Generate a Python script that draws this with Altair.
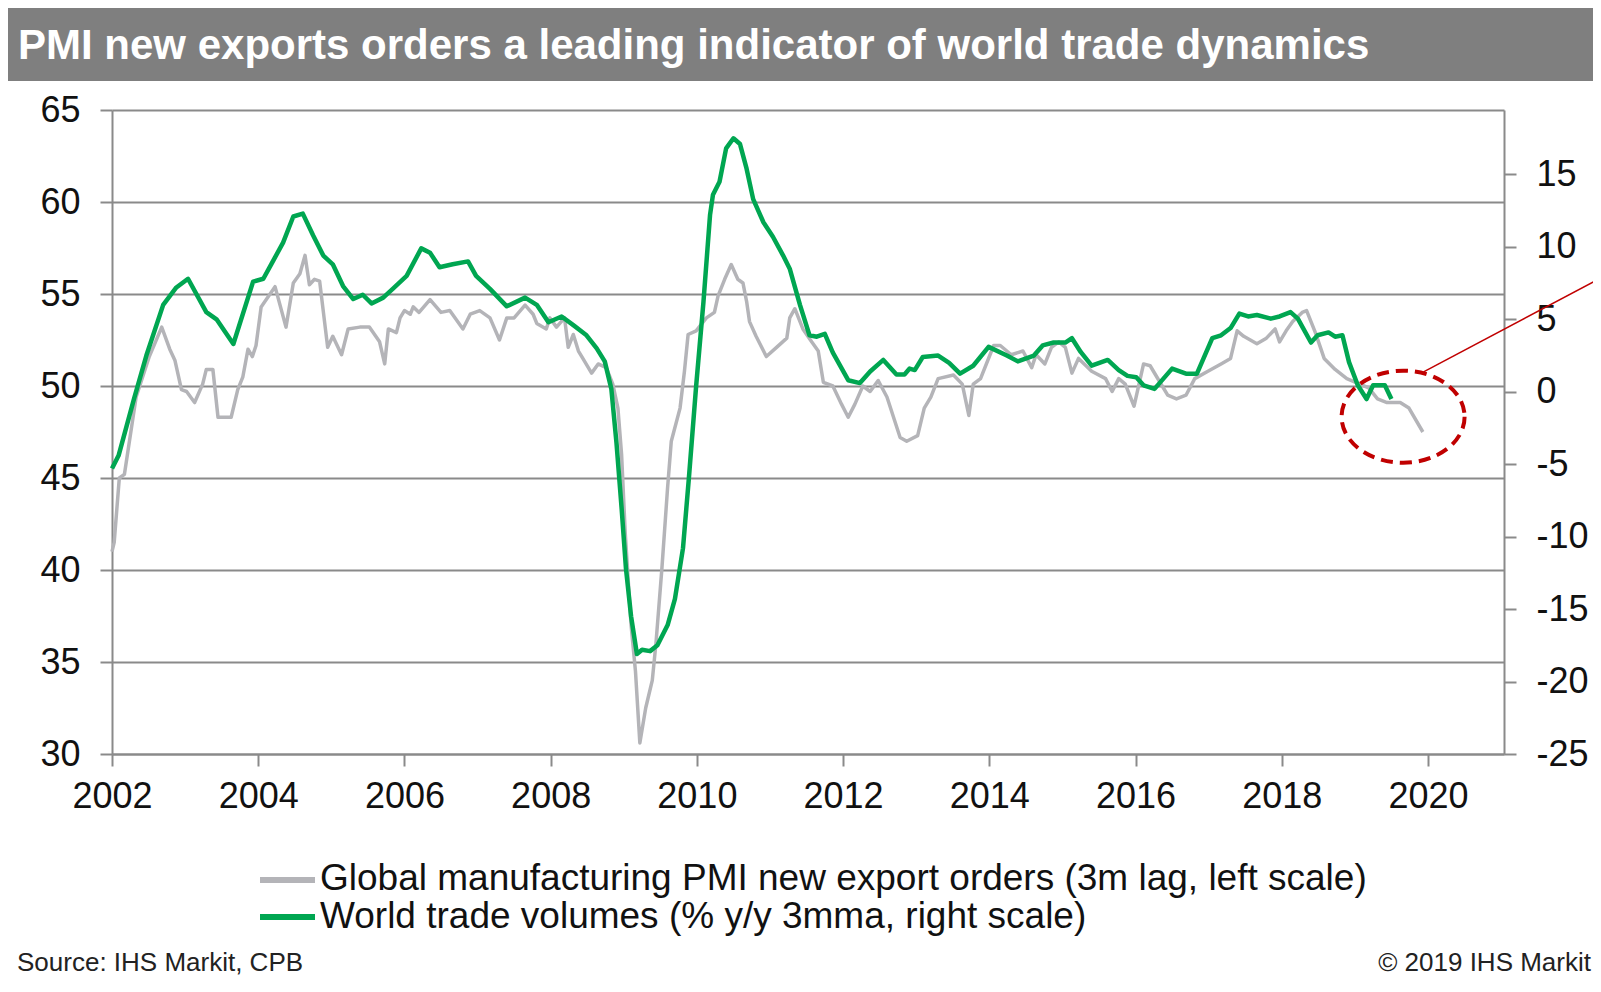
import altair as alt
import pandas as pd

# ---------------- data ----------------
gray_year = [2002.00, 2002.03, 2002.10, 2002.17, 2002.33, 2002.51, 2002.68, 2002.79, 2002.86, 2002.95,
             2003.02, 2003.13, 2003.24, 2003.29, 2003.38, 2003.45, 2003.63, 2003.72, 2003.79, 2003.86,
             2003.92, 2003.97, 2004.04, 2004.11, 2004.23, 2004.38, 2004.48, 2004.57, 2004.64, 2004.70,
             2004.77, 2004.84, 2004.95, 2005.02, 2005.14, 2005.23, 2005.39, 2005.52, 2005.66, 2005.73,
             2005.78, 2005.89, 2005.94, 2006.00, 2006.08, 2006.12, 2006.20, 2006.35, 2006.50, 2006.62,
             2006.80, 2006.90, 2007.03, 2007.17, 2007.30, 2007.40, 2007.50, 2007.65, 2007.76, 2007.81,
             2007.94, 2007.99, 2008.08, 2008.19, 2008.24, 2008.31, 2008.38, 2008.44, 2008.56, 2008.65,
             2008.76, 2008.85, 2008.92, 2008.97, 2009.02, 2009.10, 2009.16, 2009.22, 2009.30, 2009.39,
             2009.44, 2009.52, 2009.60, 2009.65, 2009.77, 2009.83, 2009.88, 2009.99, 2010.13, 2010.24,
             2010.29, 2010.38, 2010.47, 2010.56, 2010.63, 2010.68, 2010.72, 2010.81, 2010.95, 2011.09,
             2011.23, 2011.27, 2011.34, 2011.45, 2011.57, 2011.66, 2011.73, 2011.86, 2011.98, 2012.07,
             2012.16, 2012.27, 2012.37, 2012.48, 2012.60, 2012.69, 2012.78, 2012.87, 2013.02, 2013.11,
             2013.20, 2013.30, 2013.51, 2013.63, 2013.72, 2013.78, 2013.88, 2014.06, 2014.15, 2014.30,
             2014.46, 2014.58, 2014.64, 2014.76, 2014.85, 2014.95, 2015.04, 2015.13, 2015.22, 2015.40,
             2015.59, 2015.68, 2015.77, 2015.86, 2015.98, 2016.11, 2016.20, 2016.32, 2016.44, 2016.56,
             2016.69, 2016.81, 2016.99, 2017.17, 2017.30, 2017.39, 2017.48, 2017.66, 2017.79, 2017.91,
             2017.97, 2018.06, 2018.15, 2018.28, 2018.34, 2018.46, 2018.58, 2018.73, 2018.89, 2019.01,
             2019.19, 2019.31, 2019.44, 2019.62, 2019.74, 2019.93]
gray_value = [41.0, 41.5, 45.0, 45.2, 49.4, 51.6, 53.2, 52.0, 51.4, 49.8,
              49.7, 49.1, 50.1, 50.9, 50.9, 48.3, 48.3, 49.8, 50.5, 52.0,
              51.6, 52.2, 54.3, 54.7, 55.4, 53.2, 55.6, 56.1, 57.1, 55.5,
              55.8, 55.7, 52.1, 52.7, 51.7, 53.1, 53.2, 53.2, 52.4, 51.2,
              53.1, 52.9, 53.7, 54.1, 53.9, 54.3, 54.0, 54.7, 54.0, 54.1,
              53.1, 53.9, 54.1, 53.7, 52.5, 53.7, 53.7, 54.4, 53.9, 53.4,
              53.1, 53.7, 53.2, 53.7, 52.1, 52.8, 51.9, 51.5, 50.7, 51.2,
              51.0, 50.1, 48.8, 46.3, 42.0, 37.0, 34.5, 30.6, 32.5, 34.0,
              36.0, 40.0, 44.5, 47.0, 48.8, 50.8, 52.8, 53.0, 53.7, 54.0,
              54.9, 55.8, 56.6, 55.8, 55.6, 54.6, 53.5, 52.7, 51.6, 52.1,
              52.6, 53.7, 54.2, 53.1, 52.4, 51.9, 50.2, 50.0, 49.0, 48.3,
              49.0, 50.0, 49.7, 50.3, 49.4, 48.3, 47.2, 47.0, 47.3, 48.8,
              49.4, 50.4, 50.6, 50.1, 48.4, 50.1, 50.4, 52.2, 52.2, 51.7,
              51.9, 51.0, 51.7, 51.2, 52.1, 52.4, 52.1, 50.7, 51.5, 50.8,
              50.4, 49.7, 50.4, 50.1, 48.9, 51.2, 51.1, 50.3, 49.5, 49.3,
              49.5, 50.4, 50.8, 51.2, 51.5, 53.0, 52.7, 52.3, 52.6, 53.1,
              52.4, 53.0, 53.5, 54.0, 54.1, 52.9, 51.5, 50.9, 50.4, 50.2,
              49.9, 49.3, 49.1, 49.1, 48.8, 47.5]

green_year = [2002.00, 2002.09, 2002.30, 2002.47, 2002.70, 2002.88, 2003.04, 2003.29, 2003.43, 2003.66,
              2003.93, 2004.07, 2004.20, 2004.34, 2004.48, 2004.61, 2004.75, 2004.89, 2005.02, 2005.16,
              2005.30, 2005.43, 2005.55, 2005.71, 2005.84, 2006.03, 2006.23, 2006.35, 2006.48, 2006.66,
              2006.87, 2006.98, 2007.17, 2007.40, 2007.65, 2007.81, 2007.97, 2008.15, 2008.31, 2008.49,
              2008.63, 2008.74, 2008.83, 2008.90, 2008.97, 2009.03, 2009.10, 2009.18, 2009.25, 2009.36,
              2009.46, 2009.60, 2009.70, 2009.81, 2009.89, 2009.99, 2010.09, 2010.18, 2010.22, 2010.31,
              2010.40, 2010.50, 2010.59, 2010.68, 2010.77, 2010.91, 2011.04, 2011.18, 2011.27, 2011.41,
              2011.54, 2011.64, 2011.75, 2011.86, 2012.07, 2012.23, 2012.37, 2012.55, 2012.73, 2012.84,
              2012.91, 2012.98, 2013.09, 2013.30, 2013.45, 2013.60, 2013.78, 2013.99, 2014.24, 2014.39,
              2014.61, 2014.73, 2014.88, 2015.04, 2015.13, 2015.25, 2015.40, 2015.62, 2015.77, 2015.89,
              2016.01, 2016.11, 2016.26, 2016.50, 2016.69, 2016.84, 2017.05, 2017.17, 2017.30, 2017.42,
              2017.54, 2017.66, 2017.85, 2017.97, 2018.12, 2018.22, 2018.40, 2018.49, 2018.64, 2018.73,
              2018.83, 2018.92, 2019.04, 2019.16, 2019.25, 2019.41, 2019.50]
green_value = [-5.3, -4.4, -0.5, 2.5, 6.0, 7.2, 7.8, 5.5, 5.0, 3.3,
               7.6, 7.8, 9.0, 10.3, 12.1, 12.3, 10.8, 9.4, 8.8, 7.3,
               6.4, 6.7, 6.1, 6.5, 7.1, 8.0, 9.9, 9.6, 8.6, 8.8,
               9.0, 8.0, 7.1, 5.9, 6.5, 6.0, 4.8, 5.2, 4.6, 3.9,
               3.0, 2.1, 0.2, -3.5, -8.0, -12.2, -15.5, -18.1, -17.8, -17.9,
               -17.5, -16.1, -14.3, -10.8, -6.0, 0.4, 6.2, 12.2, 13.6, 14.5,
               16.8, 17.5, 17.1, 15.4, 13.3, 11.7, 10.7, 9.4, 8.5, 6.0,
               3.9, 3.8, 4.0, 2.7, 0.8, 0.6, 1.4, 2.2, 1.2, 1.2,
               1.6, 1.5, 2.4, 2.5, 2.0, 1.25, 1.8, 3.1, 2.5, 2.1,
               2.5, 3.2, 3.4, 3.4, 3.7, 2.75, 1.8, 2.2, 1.5, 1.1,
               1.0, 0.45, 0.2, 1.6, 1.25, 1.25, 3.7, 3.9, 4.4, 5.4,
               5.2, 5.3, 5.05, 5.2, 5.5, 5.05, 3.4, 3.9, 4.1, 3.8,
               3.9, 2.05, 0.45, -0.5, 0.45, 0.45, -0.5]

x_ticks = [2002, 2004, 2006, 2008, 2010, 2012, 2014, 2016, 2018, 2020]
left_ticks = [30, 35, 40, 45, 50, 55, 60, 65]
right_ticks = [-25, -20, -15, -10, -5, 0, 5, 10, 15]
x_domain = [2002, 2021.04]
left_domain = [30, 65]
right_domain = [-25, 19.45]

title_text = ["PMI new exports orders a leading indicator of world trade dynamics"]
legend_labels = ["Global manufacturing PMI new export orders (3m lag, left scale)",
                 "World trade volumes (% y/y 3mma, right scale)"]
source_text = ["Source: IHS Markit, CPB"]
copyright_text = ["\u00a9 2019 IHS Markit"]

# annotation: circled recent values (x in years, y on right scale)
ellipse_center = {"year": 2019.66, "value": -1.72}
arrow = {"year": 2019.94, "y0": 1.37, "x1": 2022.4, "y1": 7.95}

GRAY = "#b4b4b8"
GREEN = "#00a651"
AXIS = "#8a8a8a"
TEXT = "#111111"
FONT = "Liberation Sans"

gray_df = pd.DataFrame({"year": gray_year, "value": gray_value})
green_df = pd.DataFrame({"year": green_year, "value": green_value})

xscale = alt.Scale(domain=x_domain, nice=False, zero=False)
x_axis = alt.Axis(values=x_ticks, format="d", title=None, grid=False,
                  domainColor=AXIS, domainWidth=2, tickColor=AXIS, tickWidth=2,
                  tickSize=12, labelPadding=13, labelFontSize=36, labelFont=FONT,
                  labelColor=TEXT, labelFlush=False, orient="bottom")
x_enc = alt.X("year:Q", scale=xscale, axis=x_axis)

right_scale = alt.Scale(domain=right_domain, nice=False, zero=False)

gray_line = alt.Chart(gray_df).mark_line(color=GRAY, strokeWidth=3.5, strokeJoin="round").encode(
    x=x_enc,
    y=alt.Y("value:Q", scale=alt.Scale(domain=left_domain, nice=False, zero=False),
            axis=alt.Axis(orient="left", values=left_ticks, title=None, grid=True,
                          gridColor=AXIS, gridWidth=2, domainColor=AXIS, domainWidth=2,
                          tickColor=AXIS, tickWidth=2, tickSize=12, labelPadding=20,
                          labelFontSize=36, labelFont=FONT, labelColor=TEXT))
)

green_line = alt.Chart(green_df).mark_line(color=GREEN, strokeWidth=4.5, strokeJoin="round").encode(
    x=x_enc,
    y=alt.Y("value:Q", scale=right_scale,
            axis=alt.Axis(orient="right", values=right_ticks, title=None, grid=False,
                          domainColor=AXIS, domainWidth=2, tickColor=AXIS, tickWidth=2,
                          tickSize=12, labelPadding=20, labelFontSize=36, labelFont=FONT,
                          labelColor=TEXT, labelAlign="left",
                          labelExpr="'' + datum.value"))
)

ellipse_path = ("M1,0 C1,0.413 0.552,0.748 0,0.748 C-0.552,0.748 -1,0.413 -1,0 "
                "C-1,-0.413 -0.552,-0.748 0,-0.748 C0.552,-0.748 1,-0.413 1,0 Z")
ellipse = alt.Chart(pd.DataFrame([ellipse_center])).mark_point(
    shape=ellipse_path, size=15129, filled=False, stroke="#c00000", strokeWidth=4,
    strokeDash=[12, 7], opacity=1
).encode(
    x=x_enc,
    y=alt.Y("value:Q", scale=right_scale, axis=None)
)

arrow_line = alt.Chart(pd.DataFrame([arrow])).mark_rule(color="#c00000", strokeWidth=1.5).encode(
    x=x_enc,
    x2="x1:Q",
    y=alt.Y("y0:Q", scale=right_scale, axis=None),
    y2="y1:Q",
)

# title band
band = alt.Chart(pd.DataFrame({"label": title_text})).mark_rect(color="#7f7f7f").encode(
    x=alt.value(-112), x2=alt.value(1489), y=alt.value(-103), y2=alt.value(-29)
)
title = alt.Chart(pd.DataFrame({"label": title_text})).mark_text(
    align="left", baseline="alphabetic", font=FONT, fontSize=42, fontWeight="bold", color="white"
).encode(x=alt.value(-94), y=alt.value(-51), text="label:N")

# legend
leg_df = pd.DataFrame({"label": legend_labels})
leg_sym_gray = alt.Chart(leg_df.iloc[[0]]).mark_rule(color=GRAY, strokeWidth=6).encode(
    x=alt.value(148), x2=alt.value(203), y=alt.value(770))
leg_sym_green = alt.Chart(leg_df.iloc[[1]]).mark_rule(color=GREEN, strokeWidth=6).encode(
    x=alt.value(148), x2=alt.value(203), y=alt.value(807))
leg_txt_gray = alt.Chart(leg_df.iloc[[0]]).mark_text(
    align="left", baseline="middle", font=FONT, fontSize=37, color=TEXT
).encode(x=alt.value(208), y=alt.value(768.5), text="label:N")
leg_txt_green = alt.Chart(leg_df.iloc[[1]]).mark_text(
    align="left", baseline="middle", font=FONT, fontSize=37, color=TEXT
).encode(x=alt.value(208), y=alt.value(806.5), text="label:N")

source = alt.Chart(pd.DataFrame({"label": source_text})).mark_text(
    align="left", baseline="middle", font=FONT, fontSize=26, color="#222222"
).encode(x=alt.value(-95), y=alt.value(853), text="label:N")
copyright_ = alt.Chart(pd.DataFrame({"label": copyright_text})).mark_text(
    align="right", baseline="middle", font=FONT, fontSize=26, color="#222222"
).encode(x=alt.value(1479), y=alt.value(853), text="label:N")

chart = alt.layer(
    band, title, gray_line, green_line, ellipse, arrow_line,
    leg_sym_gray, leg_sym_green, leg_txt_gray, leg_txt_green, source, copyright_
).resolve_scale(y="independent").properties(
    width=1392, height=644,
    autosize=alt.AutoSizeParams(type="none"),
    padding={"left": 104, "top": 102, "right": 89, "bottom": 230},
    background="white",
).configure_view(stroke=None)

chart.save("out.html", embed_options={"renderer": "svg", "actions": False})
